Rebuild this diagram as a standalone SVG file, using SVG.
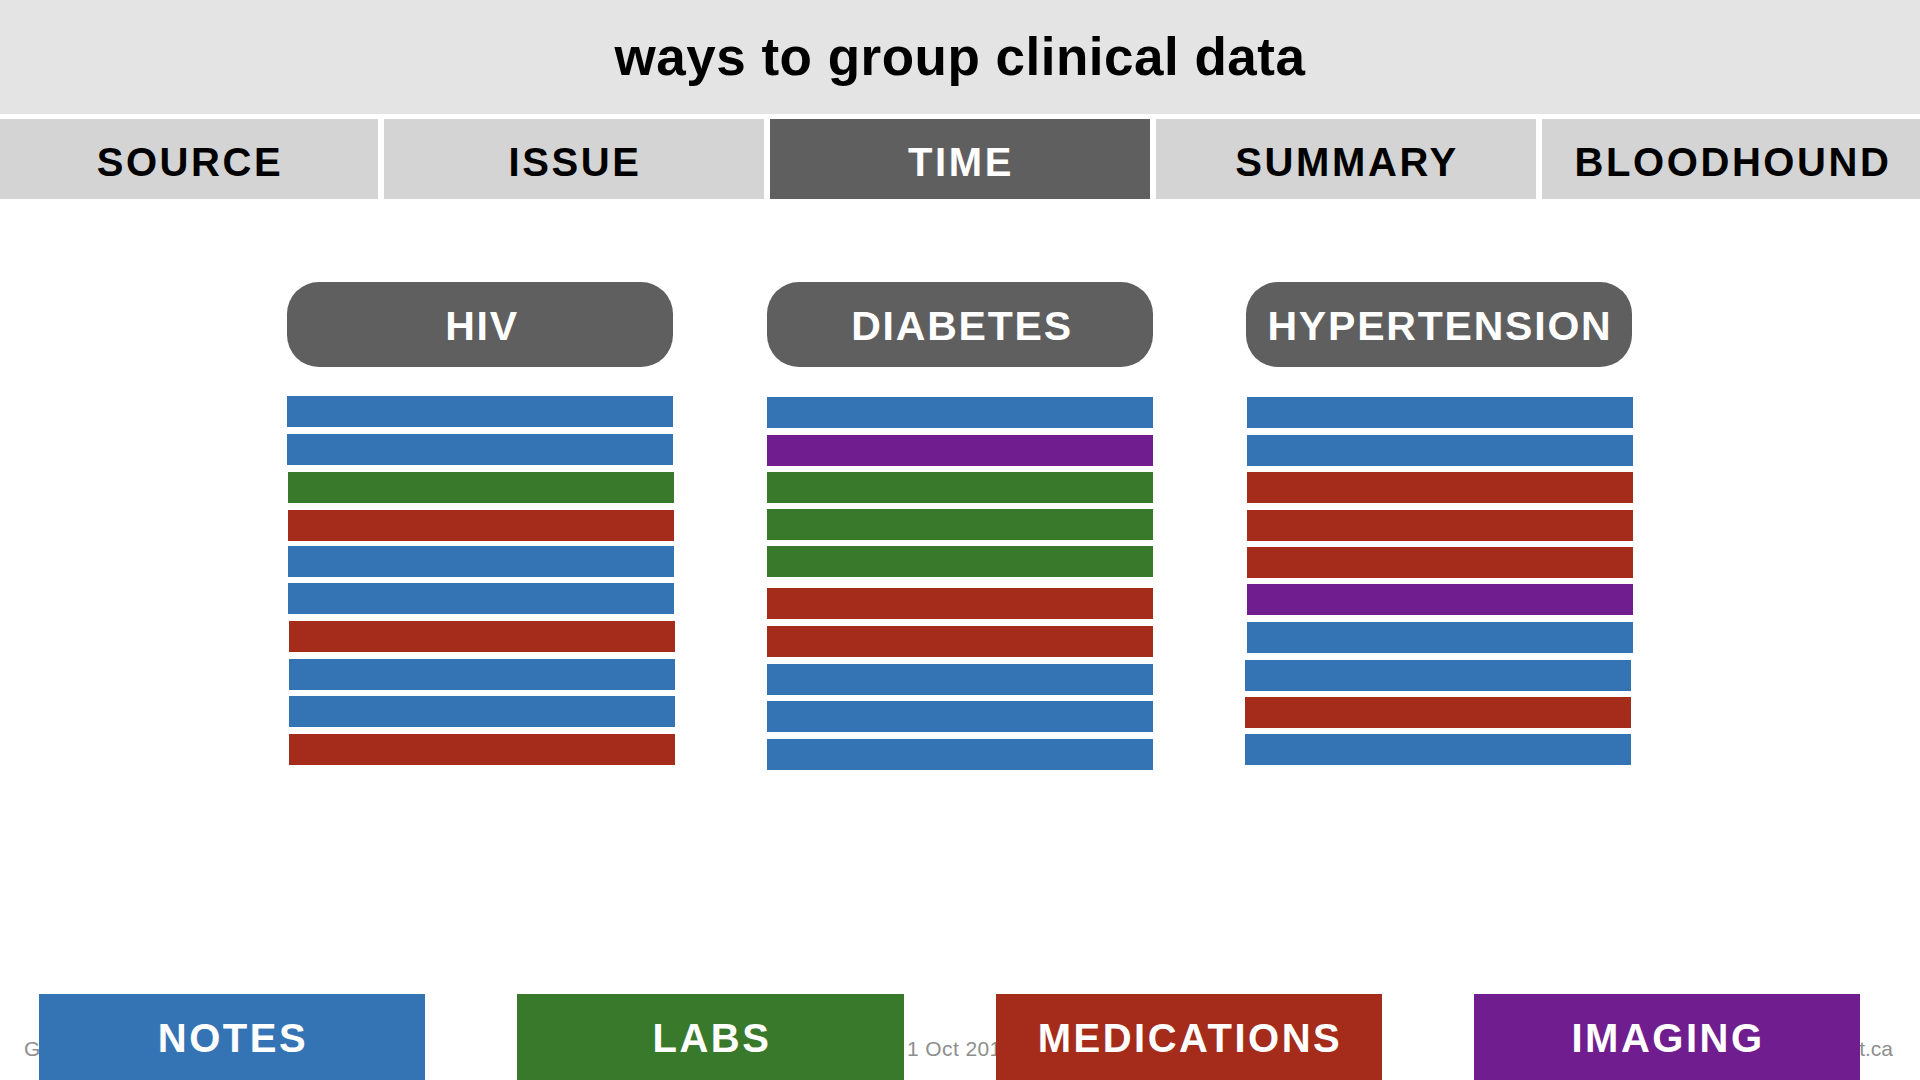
<svg xmlns="http://www.w3.org/2000/svg" width="1920" height="1080" viewBox="0 0 1920 1080">
  <style>
    text { font-family: "Liberation Sans", Arial, Helvetica, sans-serif; }
    .title { font-size: 53px; font-weight: bold; fill: #000; letter-spacing: 0.5px; }
    .tab { fill: #d4d4d4; }
    .tab-on { fill: #5f5f5f; }
    .tabtxt { font-size: 40px; font-weight: bold; fill: #000; letter-spacing: 2.6px; text-anchor: middle; }
    .tabtxt-on { fill: #fff; }
    .pill { fill: #5f5f5f; }
    .pilltxt { font-size: 41px; font-weight: bold; fill: #fff; letter-spacing: 1.8px; text-anchor: middle; }
    .note { fill: #3474b5; }
    .lab { fill: #38792c; }
    .med { fill: #a52b1a; }
    .img { fill: #6f1d8f; }
    .legtxt { font-size: 40px; font-weight: bold; fill: #fff; letter-spacing: 2.5px; text-anchor: middle; }
    .foot { font-size: 21px; fill: #8e8e8e; }
  </style>

  <rect width="1920" height="1080" fill="#ffffff"/>

  <g id="header">
    <rect x="0" y="0" width="1920" height="114" fill="#e4e4e4"/>
    <text class="title" x="960" y="75" text-anchor="middle">ways to group clinical data</text>
  </g>

  <g id="tab-source">
    <rect class="tab" x="0" y="119" width="378" height="80"/>
    <text class="tabtxt" x="190" y="176">SOURCE</text>
  </g>
  <g id="tab-issue">
    <rect class="tab" x="384" y="119" width="380" height="80"/>
    <text class="tabtxt" x="575" y="176">ISSUE</text>
  </g>
  <g id="tab-time">
    <rect class="tab-on" x="770" y="119" width="380" height="80"/>
    <text class="tabtxt tabtxt-on" x="961" y="176">TIME</text>
  </g>
  <g id="tab-summary">
    <rect class="tab" x="1156" y="119" width="380" height="80"/>
    <text class="tabtxt" x="1347" y="176">SUMMARY</text>
  </g>
  <g id="tab-bloodhound">
    <rect class="tab" x="1542" y="119" width="378" height="80"/>
    <text class="tabtxt" x="1733" y="176">BLOODHOUND</text>
  </g>

  <g id="col-hiv">
    <rect class="pill" x="287" y="282" width="386" height="85" rx="32" ry="32"/>
    <text class="pilltxt" x="482" y="340">HIV</text>
    <rect class="note" x="287" y="396" width="386" height="31"/>
    <rect class="note" x="287" y="434" width="386" height="31"/>
    <rect class="lab" x="288" y="472" width="386" height="31"/>
    <rect class="med" x="288" y="510" width="386" height="31"/>
    <rect class="note" x="288" y="546" width="386" height="31"/>
    <rect class="note" x="288" y="583" width="386" height="31"/>
    <rect class="med" x="289" y="621" width="386" height="31"/>
    <rect class="note" x="289" y="659" width="386" height="31"/>
    <rect class="note" x="289" y="696" width="386" height="31"/>
    <rect class="med" x="289" y="734" width="386" height="31"/>
  </g>

  <g id="col-diabetes">
    <rect class="pill" x="767" y="282" width="386" height="85" rx="32" ry="32"/>
    <text class="pilltxt" x="962" y="340">DIABETES</text>
    <rect class="note" x="767" y="397" width="386" height="31"/>
    <rect class="img" x="767" y="435" width="386" height="31"/>
    <rect class="lab" x="767" y="472" width="386" height="31"/>
    <rect class="lab" x="767" y="509" width="386" height="31"/>
    <rect class="lab" x="767" y="546" width="386" height="31"/>
    <rect class="med" x="767" y="588" width="386" height="31"/>
    <rect class="med" x="767" y="626" width="386" height="31"/>
    <rect class="note" x="767" y="664" width="386" height="31"/>
    <rect class="note" x="767" y="701" width="386" height="31"/>
    <rect class="note" x="767" y="739" width="386" height="31"/>
  </g>

  <g id="col-hypertension">
    <rect class="pill" x="1246" y="282" width="386" height="85" rx="32" ry="32"/>
    <text class="pilltxt" x="1440" y="340">HYPERTENSION</text>
    <rect class="note" x="1247" y="397" width="386" height="31"/>
    <rect class="note" x="1247" y="435" width="386" height="31"/>
    <rect class="med" x="1247" y="472" width="386" height="31"/>
    <rect class="med" x="1247" y="510" width="386" height="31"/>
    <rect class="med" x="1247" y="547" width="386" height="31"/>
    <rect class="img" x="1247" y="584" width="386" height="31"/>
    <rect class="note" x="1247" y="622" width="386" height="31"/>
    <rect class="note" x="1245" y="660" width="386" height="31"/>
    <rect class="med" x="1245" y="697" width="386" height="31"/>
    <rect class="note" x="1245" y="734" width="386" height="31"/>
  </g>

  <g id="footer-text">
    <text class="foot" x="24" y="1056">G</text>
    <text class="foot" x="907" y="1056" letter-spacing="0.4">1 Oct 2015</text>
    <text class="foot" x="1893" y="1056" text-anchor="end">t.ca</text>
  </g>

  <g id="connectors"></g>

  <g id="legend-notes">
    <rect class="note" x="39" y="994" width="386" height="86"/>
    <text class="legtxt" x="233" y="1052">NOTES</text>
  </g>
  <g id="legend-labs">
    <rect class="lab" x="517" y="994" width="387" height="86"/>
    <text class="legtxt" x="712" y="1052">LABS</text>
  </g>
  <g id="legend-medications">
    <rect class="med" x="996" y="994" width="386" height="86"/>
    <text class="legtxt" x="1190" y="1052">MEDICATIONS</text>
  </g>
  <g id="legend-imaging">
    <rect class="img" x="1474" y="994" width="386" height="86"/>
    <text class="legtxt" x="1668" y="1052">IMAGING</text>
  </g>
</svg>
